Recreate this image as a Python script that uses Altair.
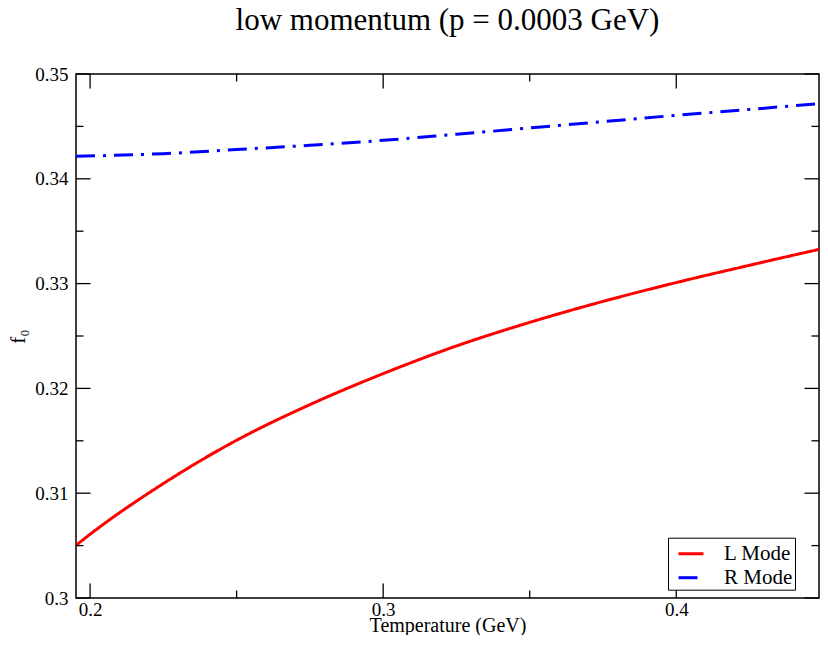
import altair as alt
import pandas as pd

# ---- data ----
T_L = [0.1952, 0.200, 0.225, 0.250, 0.275, 0.300, 0.325, 0.350, 0.375, 0.400, 0.425, 0.4487]
F_L = [0.30503, 0.30608, 0.31092, 0.31505, 0.31845, 0.32141, 0.32405, 0.32630, 0.32830, 0.33010, 0.33175, 0.33327]
T_R = [0.1952, 0.225, 0.250, 0.275, 0.300, 0.325, 0.350, 0.375, 0.400, 0.425, 0.4487]
F_R = [0.34215, 0.34240, 0.34279, 0.34320, 0.34367, 0.34425, 0.34485, 0.34545, 0.34606, 0.34662, 0.34718]
MODES = ["L Mode", "R Mode"]
X_MAJOR = [0.2, 0.3, 0.4]
X_MINOR = [0.25, 0.35]
Y_MAJOR = [0.30, 0.31, 0.32, 0.33, 0.34, 0.35]
Y_MINOR = [0.305, 0.315, 0.325, 0.335, 0.345]
X_DOMAIN = [0.1952, 0.4487]
Y_DOMAIN = [0.30, 0.35]

W, H = 743, 524
MAJ, MIN = 14.5, 7.5
FONT = "Liberation Serif"

df = pd.DataFrame({
    "T": T_L + T_R,
    "f": F_L + F_R,
    "mode": [MODES[0]] * len(T_L) + [MODES[1]] * len(T_R),
})

xs = alt.Scale(domain=X_DOMAIN, nice=False, zero=False)
ys = alt.Scale(domain=Y_DOMAIN, nice=False, zero=False)

lines = alt.Chart(df).mark_line(strokeWidth=3, clip=True, interpolate="monotone", strokeCap="butt").encode(
    x=alt.X("T:Q", scale=xs, axis=alt.Axis(
        values=X_MAJOR, format=".1~f", title="Temperature (GeV)", ticks=False, domain=False, grid=False,
        labelFont=FONT, labelFontSize=19, labelColor="black", labelPadding=2,
        titleFont=FONT, titleFontSize=20, titleFontWeight="normal", titleColor="black",
        titleBaseline="alphabetic", titleY=33.5)),
    y=alt.Y("f:Q", scale=ys, axis=alt.Axis(
        values=Y_MAJOR, format=".2~f", title="f₀", ticks=False, domain=False, grid=False,
        labelFont=FONT, labelFontSize=19, labelColor="black", labelPadding=8,
        titleFont=FONT, titleFontSize=21, titleFontWeight="normal", titleColor="black",
        titleBaseline="alphabetic", titleX=-52, titleY=H / 2, titleAngle=270)),
    color=alt.Color("mode:N", scale=alt.Scale(domain=MODES, range=["#ff0000", "#0000ff"]),
                    legend=alt.Legend(title=None)),
    strokeDash=alt.StrokeDash("mode:N", scale=alt.Scale(domain=MODES, range=[[1, 0], [19, 8, 3, 8]]),
                              legend=alt.Legend(title=None)),
)


def xticks(vals, length):
    d = pd.DataFrame({"T": vals})
    bot = alt.Chart(d).mark_rule(color="black", strokeWidth=1.3).encode(
        x=alt.X("T:Q", scale=xs), y=alt.value(H), y2=alt.value(H - length))
    top = alt.Chart(d).mark_rule(color="black", strokeWidth=1.3).encode(
        x=alt.X("T:Q", scale=xs), y=alt.value(0), y2=alt.value(length))
    return [bot, top]


def yticks(vals, length):
    d = pd.DataFrame({"f": vals})
    left = alt.Chart(d).mark_rule(color="black", strokeWidth=1.3).encode(
        y=alt.Y("f:Q", scale=ys), x=alt.value(0), x2=alt.value(length))
    right = alt.Chart(d).mark_rule(color="black", strokeWidth=1.3).encode(
        y=alt.Y("f:Q", scale=ys), x=alt.value(W), x2=alt.value(W - length))
    return [left, right]


layers = [lines] + xticks(X_MAJOR, MAJ) + xticks(X_MINOR, MIN) + yticks(Y_MAJOR, MAJ) + yticks(Y_MINOR, MIN)

chart = alt.layer(*layers).properties(
    width=W, height=H,
    title=alt.TitleParams("low momentum (p = 0.0003 GeV)", font=FONT, fontSize=31, fontWeight="normal",
                          color="black", frame="group", anchor="middle", baseline="alphabetic", offset=4),
    autosize=alt.AutoSizeParams(type="none"),
    padding={"left": 68, "top": 66, "right": 1, "bottom": 37},
).configure_view(
    stroke="black", strokeWidth=1.5
).configure_legend(
    orient="none", legendX=592, legendY=463.7, padding=2, symbolOffset=7,
    strokeColor="black", fillColor="white", cornerRadius=0,
    symbolType="stroke", symbolSize=625, symbolStrokeWidth=3,
    labelFont=FONT, labelFontSize=21, labelColor="black", labelOffset=19, rowPadding=0,
)

chart.save("out.html", embed_options={"renderer": "svg", "actions": False})
